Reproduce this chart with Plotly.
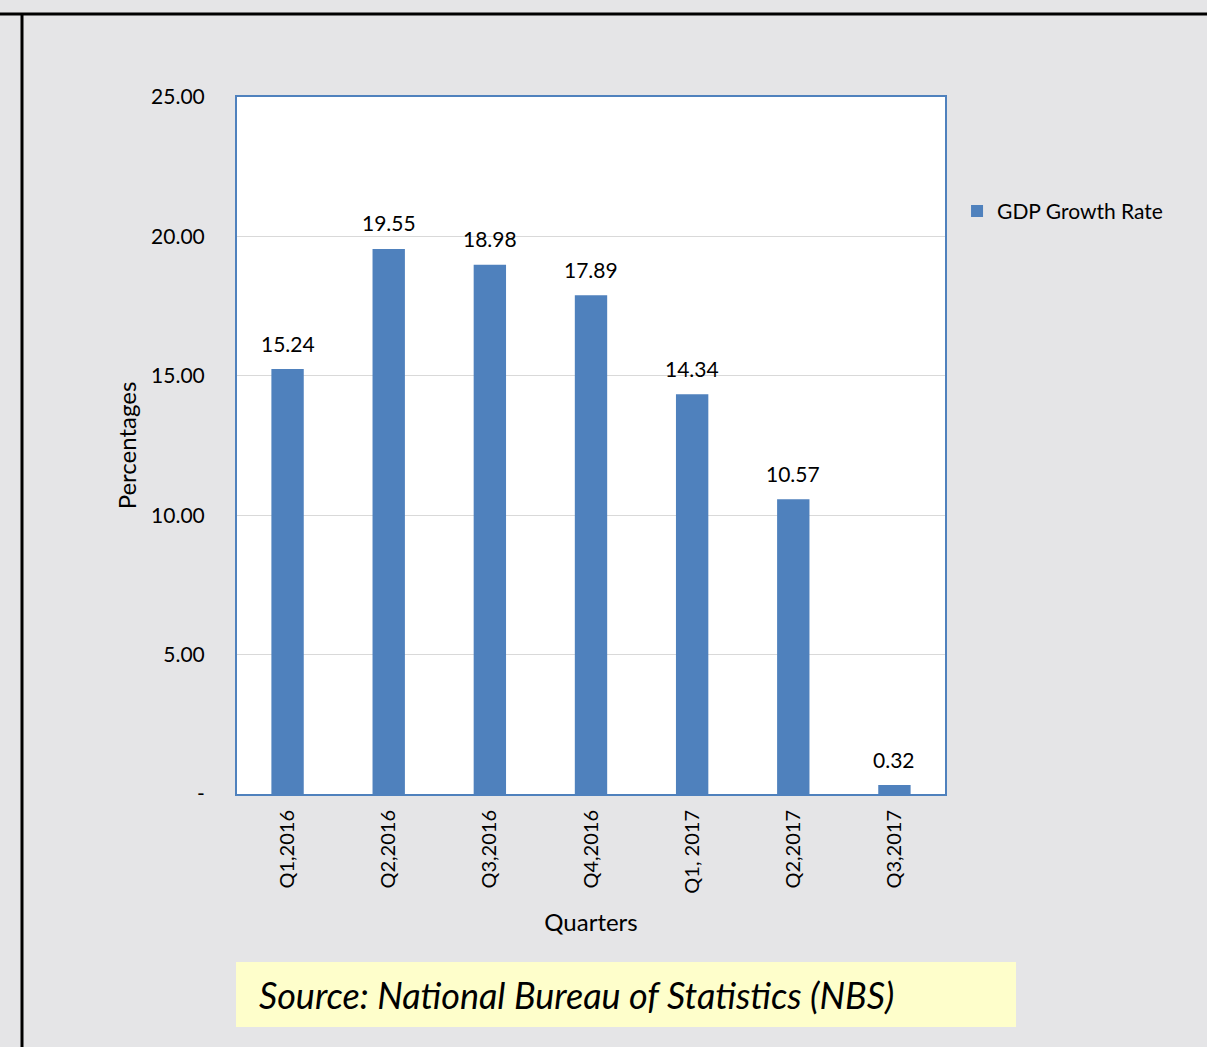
import plotly.graph_objects as go

quarters = ["Q1,2016", "Q2,2016", "Q3,2016", "Q4,2016", "Q1, 2017", "Q2,2017", "Q3,2017"]
gdp_growth = [15.24, 19.55, 18.98, 17.89, 14.34, 10.57, 0.32]
y_ticks = [0, 5, 10, 15, 20, 25]
y_tick_labels = ["-", "5.00", "10.00", "15.00", "20.00", "25.00"]

FONT = "Lato, Open Sans, sans-serif"
BLUE = "#4f81bd"

fig = go.Figure()
fig.add_trace(go.Bar(
    x=quarters, y=gdp_growth, name="GDP Growth Rate",
    marker=dict(color=BLUE, line=dict(width=0)),
))

value_labels = [
    dict(x=q, y=v, xref="x", yref="y", text=f"{v:.2f}", showarrow=False,
         yanchor="middle", yshift=26, font=dict(size=21, family=FONT, color="black"))
    for q, v in zip(quarters, gdp_growth)
]

fig.update_layout(
    width=1207, height=1047,
    margin=dict(l=237, r=262, t=97, b=253),
    paper_bgcolor="#e5e5e7",
    plot_bgcolor="white",
    bargap=0.68,
    font=dict(family=FONT, size=21, color="black"),
    showlegend=True,
    legend=dict(x=1.017, y=0.836, xanchor="left", yanchor="middle",
                bgcolor="rgba(0,0,0,0)", font=dict(size=21, family=FONT),
                itemwidth=30),
    xaxis=dict(
        title=dict(text="Quarters", standoff=22, font=dict(size=24)),
        tickangle=-90, showgrid=False, ticks="", ticklabelstandoff=6,
        tickfont=dict(size=20),
        showline=True, linecolor=BLUE, linewidth=2, mirror=True,
    ),
    yaxis=dict(
        title=dict(text="Percentages", standoff=8, font=dict(size=24)),
        range=[0, 25], tickvals=y_ticks, ticktext=y_tick_labels,
        showgrid=True, gridcolor="#d9d9d9", gridwidth=1,
        ticks="", ticklabelstandoff=26, zeroline=False,
        showline=True, linecolor=BLUE, linewidth=2, mirror=True,
    ),
    shapes=[
        dict(type="line", xref="paper", yref="paper", x0=-237/708, x1=1.5,
             y0=1 + 83/697, y1=1 + 83/697, line=dict(color="black", width=3)),
        dict(type="line", xref="paper", yref="paper", x0=-215/708, x1=-215/708,
             y0=1 + 83/697, y1=-1, line=dict(color="black", width=3)),
        dict(type="rect", xref="paper", yref="paper",
             x0=-1/708, x1=779/708, y0=-(1027-794)/697, y1=-(962-794)/697,
             fillcolor="#fefecb", line=dict(width=0)),
    ],
    annotations=value_labels + [
        dict(text="<i>Source: National Bureau of Statistics (NBS)</i>",
             xref="paper", yref="paper", x=20/708, y=-(995-794)/697,
             xanchor="left", yanchor="middle", showarrow=False,
             font=dict(size=36, family=FONT, color="black")),
    ],
)

fig.write_html("out.html")
